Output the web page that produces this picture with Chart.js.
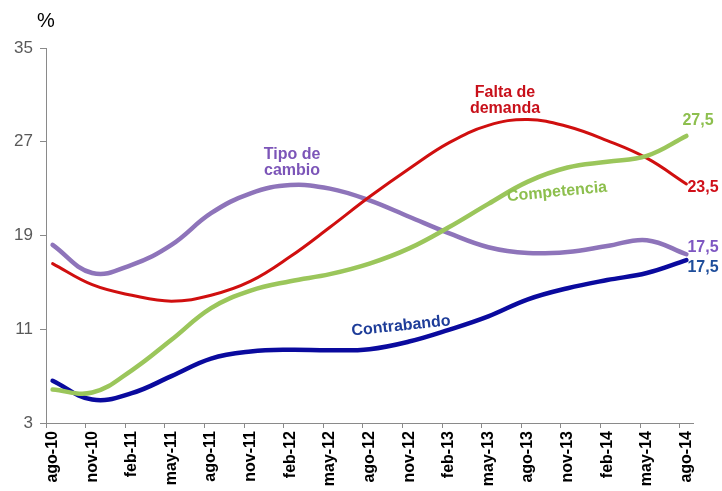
<!DOCTYPE html>
<html>
<head>
<meta charset="utf-8">
<script src="https://cdn.jsdelivr.net/npm/chart.js@4"></script>
<style>
  html, body { margin: 0; padding: 0; background: #fff; }
  canvas { display: block; }
</style>
</head>
<body>
<canvas id="chart" width="722" height="491"></canvas>
<script>
  // month names, axis starts ago-10 and ends ago-14 (monthly categories)
  const monthNames = ["ene", "feb", "mar", "abr", "may", "jun", "jul", "ago", "sep", "oct", "nov", "dic"];
  const startMonth = 7; // ago
  const startYear = 10;
  const monthCount = 49;

  // values read at each quarter (ago-10, nov-10, ... ago-14)
  const faltaDemanda = [16.6, 14.8, 13.9, 13.4, 13.9, 15.1, 17.2, 19.7, 22.3, 24.7, 26.9, 28.4, 28.9, 28.3, 27.1, 25.6, 23.4];
  const tipoCambio = [18.2, 15.8, 16.5, 18.2, 20.9, 22.6, 23.3, 23.0, 22.0, 20.6, 19.2, 18.0, 17.5, 17.6, 18.1, 18.6, 17.4];
  const competencia = [5.85, 5.6, 7.5, 10.1, 12.8, 14.3, 15.1, 15.7, 16.6, 17.9, 19.7, 21.7, 23.6, 24.8, 25.3, 25.8, 27.5];
  const contrabando = [6.6, 5.0, 5.55, 7.0, 8.5, 9.1, 9.25, 9.2, 9.3, 9.95, 10.95, 12.1, 13.55, 14.5, 15.2, 15.8, 16.9];

  const yTicks = [3, 11, 19, 27, 35];
  const endLabels = ["23,5", "17,5", "27,5", "17,5"];

  const labels = [];
  for (let i = 0; i < monthCount; i++) {
    const m = (startMonth + i) % 12;
    const y = startYear + Math.floor((startMonth + i) / 12);
    labels.push(`${monthNames[m]}-${y}`);
  }

  function spread(quarterly) {
    const out = new Array(monthCount).fill(null);
    quarterly.forEach((v, q) => { out[q * 3] = v; });
    return out;
  }

  const RED = "#D00F0F";
  const PURPLE = "#8E74BA";
  const GREEN = "#9BC65B";
  const BLUE = "#0A0A9E";
  const AXIS = "#8a8a8a";

  function line(label, values, color, width) {
    return {
      label,
      data: spread(values),
      borderColor: color,
      borderWidth: width,
      pointRadius: 0,
      tension: 0.4,
      spanGaps: true,
      fill: false,
      borderCapStyle: "round",
    };
  }

  const textPlugin = {
    id: "texts",
    afterDraw(chart) {
      const ctx = chart.ctx;
      ctx.save();
      ctx.textAlign = "center";
      ctx.textBaseline = "middle";

      ctx.fillStyle = "#000";
      ctx.font = "20px 'Liberation Sans', Arial, sans-serif";
      ctx.fillText("%", 46, 21);

      ctx.font = "bold 16px 'Liberation Sans', Arial, sans-serif";
      ctx.fillStyle = "#C8101A";
      ctx.fillText("Falta de", 505, 93);
      ctx.fillText("demanda", 505, 109);

      ctx.fillStyle = "#7C55B8";
      ctx.fillText("Tipo de", 292, 155);
      ctx.fillText("cambio", 292, 171);

      ctx.save();
      ctx.translate(557, 192);
      ctx.rotate(-5.5 * Math.PI / 180);
      ctx.fillStyle = "#8DBF4E";
      ctx.fillText("Competencia", 0, 0);
      ctx.restore();

      ctx.save();
      ctx.translate(401, 326);
      ctx.rotate(-6 * Math.PI / 180);
      ctx.fillStyle = "#1E3D99";
      ctx.fillText("Contrabando", 0, 0);
      ctx.restore();

      // end values, next to the last point of each series
      const x = chart.scales.x.getPixelForValue(monthCount - 1);
      ctx.textAlign = "left";
      const ends = [
        [endLabels[0], "#D0101A", 188],
        [endLabels[1], "#7E57C2", 248],
        [endLabels[2], "#8DBF4E", 121],
        [endLabels[3], "#1F4E9B", 268],
      ];
      ends.forEach(([t, c, y], i) => {
        ctx.fillStyle = c;
        ctx.fillText(t, i === 2 ? x - 4 : x + 1, y);
      });
      ctx.restore();
    },
  };

  new Chart(document.getElementById("chart"), {
    type: "line",
    data: {
      labels,
      datasets: [
        line("Competencia", competencia, GREEN, 4.5),
        line("Falta de demanda", faltaDemanda, RED, 3),
        line("Tipo de cambio", tipoCambio, PURPLE, 4.5),
        line("Contrabando", contrabando, BLUE, 4.5),
      ],
    },
    options: {
      responsive: false,
      animation: false,
      devicePixelRatio: 1,
      layout: { padding: { top: 48, right: 29, left: 0, bottom: 0 } },
      plugins: { legend: { display: false }, tooltip: { enabled: false } },
      scales: {
        x: {
          type: "category",
          offset: true,
          afterFit: (s) => { s.height = 68; },
          border: { display: true, color: AXIS, width: 1 },
          grid: {
            offset: true,
            drawOnChartArea: false,
            drawTicks: true,
            tickLength: 5,
            color: (c) => (c.index !== undefined && c.index % 3 === 0 ? AXIS : "rgba(0,0,0,0)"),
            tickColor: (c) => (c.index !== undefined && c.index % 3 === 0 ? AXIS : "rgba(0,0,0,0)"),
          },
          ticks: {
            autoSkip: false,
            minRotation: 90,
            maxRotation: 90,
            padding: 3,
            color: "#000",
            font: { family: "'Liberation Sans', Arial, sans-serif", size: 16, weight: "bold" },
            callback: (v, i) => (i % 3 === 0 ? labels[i] : ""),
          },
        },
        y: {
          min: yTicks[0],
          max: yTicks[yTicks.length - 1],
          afterFit: (s) => { s.width = 46; },
          afterBuildTicks: (s) => { s.ticks = yTicks.map((v) => ({ value: v })); },
          border: { display: true, color: AXIS, width: 1 },
          grid: { drawOnChartArea: false, drawTicks: true, tickLength: 6, color: AXIS },
          ticks: {
            padding: 7,
            color: "#595959",
            font: { family: "'Liberation Sans', Arial, sans-serif", size: 17 },
          },
        },
      },
    },
    plugins: [textPlugin],
  });
</script>
</body>
</html>
